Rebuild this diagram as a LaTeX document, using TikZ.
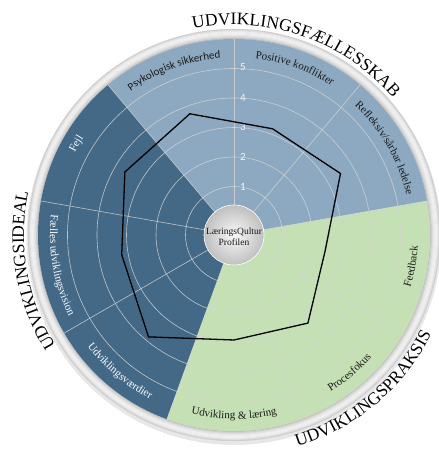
\documentclass[tikz,border=0pt]{standalone}
\usepackage{fontspec}
\setmainfont{Liberation Serif}
\newfontfamily\calib{Carlito}
\usetikzlibrary{decorations.text}
\definecolor{lblue}{RGB}{141,169,193}
\definecolor{dblue}{RGB}{68,105,135}
\definecolor{lgreen}{RGB}{197,224,180}
\definecolor{gridc}{RGB}{212,212,212}
\definecolor{txt}{RGB}{25,25,25}
\begin{document}
\begin{tikzpicture}[x=1pt,y=1pt,
  gridline/.style={draw=gridc, line width=0.6pt, opacity=0.85},
  numlbl/.style={font=\calib\fontsize{11}{12}\selectfont, text=white!92!gray, inner sep=0pt},
  profile/.style={line width=1.3pt, draw=black, line join=miter}]
\useasboundingbox (0,0) rectangle (439,456);
\begin{scope}[shift={(234,221)}]
  % shadow and ring
  \fill[gray!55, opacity=0.35] (0,-2.5) circle[radius=207.5];
  \fill[gray!25] (0,0) circle[radius=206];
  \foreach \r/\c in {196.5/50,197.5/38,198.5/28,199.5/20,200.5/14,201.5/11,202.5/12,203.5/16,204.5/24,205.5/38}
    \draw[gray!\c, line width=1.1pt] (0,0) circle[radius=\r];
  % sectors
  \fill[lblue] (0,0) -- (10:196) arc[start angle=10,end angle=130,radius=196] -- cycle;
  \fill[dblue] (0,0) -- (130:196) arc[start angle=130,end angle=250,radius=196] -- cycle;
  \fill[lgreen] (0,0) -- (250:196) arc[start angle=250,end angle=370,radius=196] -- cycle;
  % grid
  \foreach \r in {48.5,78,107.5,137,166.5}
    \draw[gridline] (0,0) circle[radius=\r];
  \foreach \a in {90,50,10,-30,-70,-110,-150,-190,-230}
    \draw[gridline] (0,0) -- (\a:196);
  % scale numbers
  \node[numlbl] (n1) at (9,48) {1};
  \node[numlbl] (n2) at (9,78) {2};
  \node[numlbl] (n3) at (9,108) {3};
  \node[numlbl] (n4) at (9,137) {4};
  \node[numlbl] (n5) at (9,168) {5};
  % profile polygon
  \draw[profile] (110:129) -- (70:113) -- (30:123) -- (-10:92.5) -- (-50:115)
     -- (-90:105) -- (-130:133) -- (-170:114) -- (150:126) -- cycle;
  % centre
  \shade[inner color=gray!5, outer color=gray!50] (0,0) circle[radius=30];
  \draw[white, line width=0.6pt] (0,0) circle[radius=30];
  \node[align=center, font=\fontsize{9.5}{11}\selectfont, text=txt, inner sep=0pt] (ctr) at (0,-1.5) {LæringsQultur\\Profilen};
  % category labels (clockwise, tops outward)
  \path[decorate, decoration={text along path, text align=center,
     text={|\calib\fontsize{11}{12}\selectfont\color{txt}|Psykologisk sikkerhed}}]
     (170:177) arc[start angle=170, end angle=50, radius=177];
  \path[decorate, decoration={text along path, text align=center,
     text={|\fontsize{11}{12}\selectfont\color{txt}|Positive konflikter}}]
     (130:178) arc[start angle=130, end angle=10, radius=178];
  \path[decorate, decoration={text along path, text align=center,
     text={|\fontsize{11}{12}\selectfont\color{txt}|Refleksiv/sårbar ledelse}}]
     (90:177) arc[start angle=90, end angle=-30, radius=177];
  \path[decorate, decoration={text along path, text align=center,
     text={|\fontsize{11}{12}\selectfont\color{white}|Fejl}}]
     (210:179) arc[start angle=210, end angle=90, radius=179];
  % category labels (counter-clockwise, tops inward)
  \path[decorate, decoration={text along path, text align=center,
     text={|\fontsize{11}{12}\selectfont\color{txt}|Feedback}}]
     (-70:184) arc[start angle=-70, end angle=50, radius=184];
  \path[decorate, decoration={text along path, text align=center,
     text={|\fontsize{11}{12}\selectfont\color{txt}|Procesfokus}}]
     (-110:184) arc[start angle=-110, end angle=10, radius=184];
  \path[decorate, decoration={text along path, text align=center,
     text={|\fontsize{11}{12}\selectfont\color{txt}|Udvikling {\&} læring}}]
     (-150:184) arc[start angle=-150, end angle=-30, radius=184];
  \path[decorate, decoration={text along path, text align=center,
     text={|\fontsize{11}{12}\selectfont\color{white}|Udviklingsværdier}}]
     (170:184) arc[start angle=170, end angle=290, radius=184];
  \path[decorate, decoration={text along path, text align=center,
     text={|\fontsize{11}{12}\selectfont\color{white}|Fælles udviklingsvision}}]
     (130:184) arc[start angle=130, end angle=250, radius=184];
  % outer titles
  \path[decorate, decoration={text along path, text align=center,
     text={|\fontsize{17.5}{20}\selectfont\color{black}|UDVIKLINGSFÆLLESSKAB}}]
     (151:210) arc[start angle=151, end angle=-9, radius=210];
  \path[decorate, decoration={text along path, text align=center,
     text={|\fontsize{17.5}{20}\selectfont\color{black}|UDVIKLINGSIDEAL}}]
     (260:210) arc[start angle=260, end angle=120, radius=210];
  \path[decorate, decoration={text along path, text align=center,
     text={|\fontsize{17.5}{20}\selectfont\color{black}|UDVIKLINGSPRAKSIS}}]
     (240:221) arc[start angle=240, end angle=380, radius=221];
\end{scope}
\end{tikzpicture}
\end{document}
